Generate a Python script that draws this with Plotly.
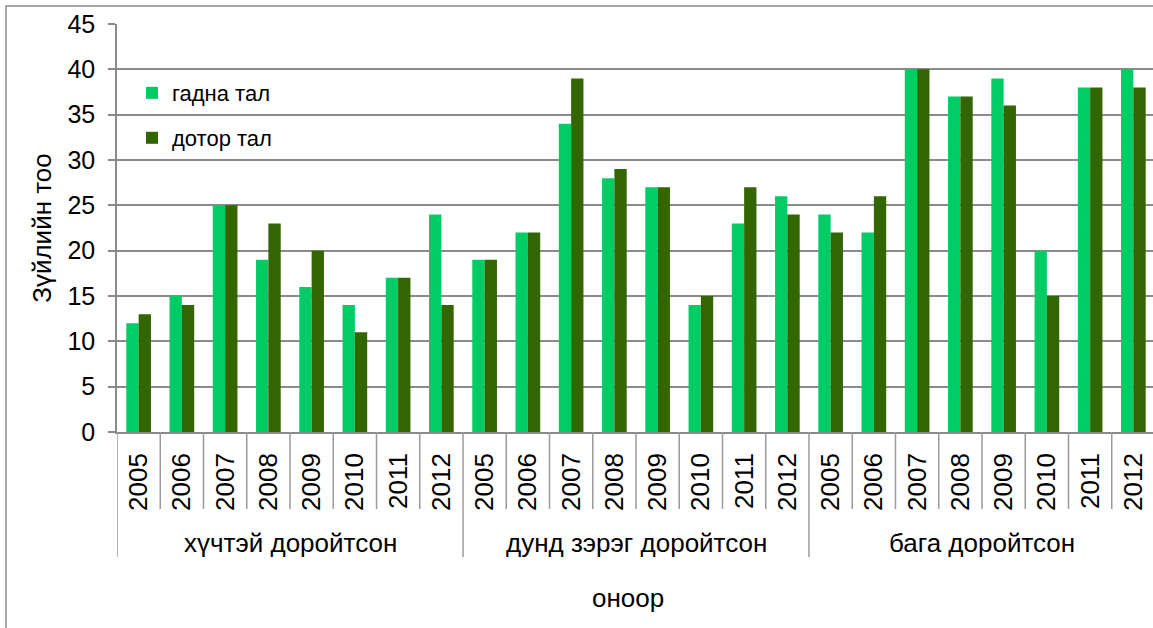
import plotly.graph_objects as go

groups = ["хүчтэй доройтсон", "дунд зэрэг доройтсон", "бага доройтсон"]
years = ["2005", "2006", "2007", "2008", "2009", "2010", "2011", "2012"]

outer_strong = [12, 15, 25, 19, 16, 14, 17, 24]
inner_strong = [13, 14, 25, 23, 20, 11, 17, 14]
outer_medium = [19, 22, 34, 28, 27, 14, 23, 26]
inner_medium = [19, 22, 39, 29, 27, 15, 27, 24]
outer_low = [24, 22, 40, 37, 39, 20, 38, 40]
inner_low = [22, 26, 40, 37, 36, 15, 38, 38]

series_names = ["гадна тал", "дотор тал"]
y_title = "Зүйлийн тоо"
x_title = "оноор"

outer = outer_strong + outer_medium + outer_low
inner = inner_strong + inner_medium + inner_low
tick_text = years * len(groups)
xpos = list(range(len(tick_text)))

FONT = "Liberation Sans, Arial, sans-serif"
GRID = "#8a8a8a"
SEP = "#9a9a9a"

fig = go.Figure()
fig.add_trace(go.Bar(x=xpos, y=outer, name=series_names[0], marker_color="#00CC66",
                     marker_line_width=0, legend="legend", showlegend=True))
fig.add_trace(go.Bar(x=xpos, y=inner, name=series_names[1], marker_color="#336600",
                     marker_line_width=0, legend="legend2", showlegend=True))

W, H = 1153, 628
L, R, T, B = 117, 0, 24, 196
pw = W - L - R
ph = H - T - B
cat_w = 43.25
xmax = -0.5 + pw / cat_w

def py(pix):
    return (H - B - pix) / ph

def px(pix):
    return (pix - L) / pw

shapes = []
n = len(tick_text)
for k in range(n + 1):
    is_group = (k % len(years) == 0)
    shapes.append(dict(type="line", xref="x", yref="paper", x0=k - 0.5, x1=k - 0.5,
                       y0=0, y1=py(557 if is_group else 509),
                       line=dict(color=SEP, width=1.5)))
# outer chart border
shapes.append(dict(type="rect", xref="paper", yref="paper",
                   x0=px(6), x1=px(W + 20), y0=py(6), y1=py(H + 20),
                   line=dict(color="#8c8c8c", width=1.5), fillcolor="rgba(0,0,0,0)"))

annotations = []
for gi, g in enumerate(groups):
    annotations.append(dict(text=g, xref="x", yref="paper", x=gi * len(years) + (len(years) - 1) / 2,
                            y=py(543), showarrow=False, yanchor="middle", xanchor="center",
                            font=dict(family=FONT, size=26, color="black")))
annotations.append(dict(text=x_title, xref="paper", yref="paper", x=px(628), y=py(598),
                        showarrow=False, yanchor="middle", xanchor="center",
                        font=dict(family=FONT, size=26, color="black")))

fig.update_layout(
    width=W, height=H,
    margin=dict(l=L, r=R, t=T, b=B, pad=0),
    paper_bgcolor="white", plot_bgcolor="white",
    showlegend=True,
    barmode="group", bargap=0.43, bargroupgap=0,
    font=dict(family=FONT, size=25, color="black"),
    shapes=shapes, annotations=annotations,
    legend=dict(x=px(132), y=py(93), xanchor="left", yanchor="middle",
                bgcolor="rgba(0,0,0,0)", font=dict(family=FONT, size=22, color="black")),
    legend2=dict(x=px(132), y=py(138), xanchor="left", yanchor="middle",
                 bgcolor="rgba(0,0,0,0)", font=dict(family=FONT, size=22, color="black")),
    xaxis=dict(range=[-0.5, xmax], tickmode="array", tickvals=xpos, ticktext=tick_text,
               tickangle=-90, ticks="", showgrid=False, zeroline=False,
               showline=True, linecolor=GRID, linewidth=1.5,
               tickfont=dict(family=FONT, size=26, color="black"),
               ticklabelstandoff=9),
    yaxis=dict(range=[0, 45], tickmode="linear", tick0=0, dtick=5,
               showgrid=True, gridcolor=GRID, gridwidth=1.5, zeroline=False,
               showline=True, linecolor=GRID, linewidth=1.5,
               ticks="outside", ticklen=7, tickcolor=GRID, tickwidth=1.5,
               tickfont=dict(family=FONT, size=25, color="black"),
               ticklabelstandoff=8,
               title=dict(text=y_title, font=dict(family=FONT, size=26, color="black"),
                          standoff=8)),
)

fig.write_html("out.html")
